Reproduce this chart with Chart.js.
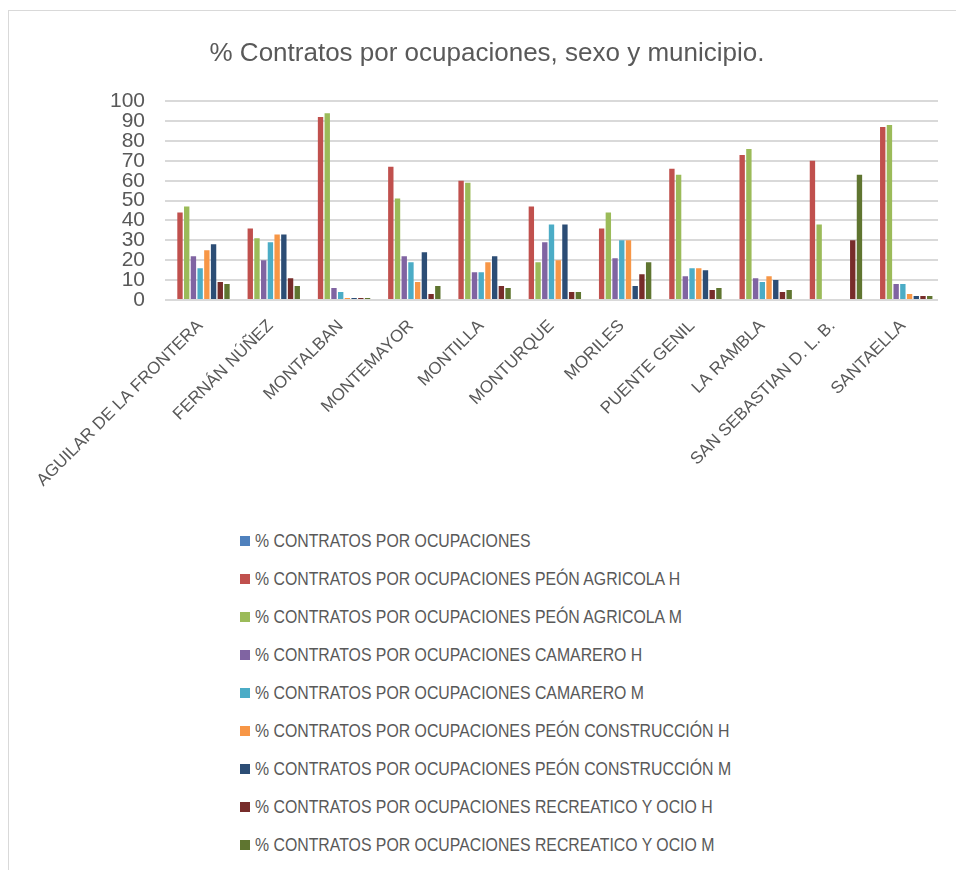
<!DOCTYPE html>
<html>
<head>
<meta charset="utf-8">
<script src="https://cdn.jsdelivr.net/npm/chart.js@4.4.1/dist/chart.umd.min.js"></script>
<style>
  body { margin: 0; background: #fff; font-family: 'Liberation Sans', Arial, sans-serif; }
  #frame { position: absolute; left: 8px; top: 10px; width: 960px; height: 870px; border: 1px solid #d9d9d9; box-sizing: border-box; }
  #wrap { position: absolute; left: 0; top: 0; width: 956px; height: 520px; }
  #legend { position: absolute; left: 240px; top: 522px; margin: 0; padding: 0; list-style: none; }
  #legend li { height: 38px; display: flex; align-items: center; font-size: 18px; color: #595959; white-space: nowrap; }
  #legend .box { display: inline-block; width: 10px; height: 10px; margin-right: 5px; }
  #legend .txt { display: inline-block; transform: scaleX(0.88); transform-origin: left center; }
</style>
</head>
<body>
<div id="frame"></div>
<div id="wrap"><canvas id="myChart"></canvas></div>
<ul id="legend"></ul>
<script>
const municipios = [
  'AGUILAR DE LA FRONTERA',
  'FERNÁN NÚÑEZ',
  'MONTALBAN',
  'MONTEMAYOR',
  'MONTILLA',
  'MONTURQUE',
  'MORILES',
  'PUENTE GENIL',
  'LA RAMBLA',
  'SAN SEBASTIAN D. L. B.',
  'SANTAELLA'
];

// valores (%)
const ocupaciones = [null, null, null, null, null, null, null, null, null, null, null];
const peonAgricolaH = [44, 36, 92, 67, 60, 47, 36, 66, 73, 70, 87];
const peonAgricolaM = [47, 31, 94, 51, 59, 19, 44, 63, 76, 38, 88];
const camareroH = [22, 20, 6, 22, 14, 29, 21, 12, 11, null, 8];
const camareroM = [16, 29, 4, 19, 14, 38, 30, 16, 9, null, 8];
const construccionH = [25, 33, 1, 9, 19, 20, 30, 16, 12, null, 3];
const construccionM = [28, 33, 1, 24, 22, 38, 7, 15, 10, null, 2];
const recreativoH = [9, 11, 1, 3, 7, 4, 13, 5, 4, 30, 2];
const recreativoM = [8, 7, 1, 7, 6, 4, 19, 6, 5, 63, 2];

const yTicks = [0, 10, 20, 30, 40, 50, 60, 70, 80, 90, 100];

const series = [
  { label: '% CONTRATOS POR OCUPACIONES', data: ocupaciones, color: '#4F81BD' },
  { label: '% CONTRATOS POR OCUPACIONES PEÓN AGRICOLA H', data: peonAgricolaH, color: '#C0504D' },
  { label: '% CONTRATOS POR OCUPACIONES PEÓN AGRICOLA M', data: peonAgricolaM, color: '#9BBB59' },
  { label: '% CONTRATOS POR OCUPACIONES CAMARERO H', data: camareroH, color: '#8064A2' },
  { label: '% CONTRATOS POR OCUPACIONES CAMARERO M', data: camareroM, color: '#4BACC6' },
  { label: '% CONTRATOS POR OCUPACIONES PEÓN CONSTRUCCIÓN H', data: construccionH, color: '#F79646' },
  { label: '% CONTRATOS POR OCUPACIONES PEÓN CONSTRUCCIÓN M', data: construccionM, color: '#2C4D75' },
  { label: '% CONTRATOS POR OCUPACIONES RECREATICO Y OCIO H', data: recreativoH, color: '#772C2A' },
  { label: '% CONTRATOS POR OCUPACIONES RECREATICO Y OCIO M', data: recreativoM, color: '#5F7530' }
];

const FONT = "'Liberation Sans', Arial, sans-serif";
const GREY = '#595959';

const data = {
  labels: municipios,
  datasets: series.map(s => ({
    label: s.label,
    data: s.data,
    backgroundColor: s.color,
    borderColor: s.color,
    borderWidth: 0,
    barPercentage: 0.8,
    categoryPercentage: 0.86
  }))
};

// leyenda en HTML, una fila por serie
const htmlLegend = {
  id: 'htmlLegend',
  afterUpdate(chart) {
    const ul = document.getElementById('legend');
    ul.innerHTML = '';
    const items = chart.options.plugins.legend.labels.generateLabels(chart);
    items.forEach(item => {
      const li = document.createElement('li');
      const box = document.createElement('span');
      box.className = 'box';
      box.style.background = item.fillStyle;
      const txt = document.createElement('span');
      txt.className = 'txt';
      txt.textContent = item.text;
      li.appendChild(box);
      li.appendChild(txt);
      ul.appendChild(li);
    });
  }
};

const ctx = document.getElementById('myChart');

new Chart(ctx, {
  type: 'bar',
  data: data,
  plugins: [htmlLegend],
  options: {
    responsive: true,
    maintainAspectRatio: false,
    animation: false,
    layout: { padding: { top: 0, right: 18, bottom: 0, left: 36 } },
    plugins: {
      legend: { display: false },
      tooltip: { enabled: false },
      title: {
        display: true,
        text: '% Contratos por ocupaciones, sexo y municipio.',
        color: GREY,
        font: { family: FONT, size: 26, weight: 'normal' },
        padding: { top: 38, bottom: 32 }
      }
    },
    scales: {
      x: {
        grid: { display: false },
        border: { display: false },
        ticks: {
          color: GREY,
          font: { family: FONT, size: 17 },
          autoSkip: false,
          minRotation: 45,
          maxRotation: 45,
          padding: 8
        },
        afterFit(scale) { scale.height = 220; }
      },
      y: {
        min: 0,
        max: 100,
        afterBuildTicks(scale) { scale.ticks = yTicks.map(v => ({ value: v })); },
        grid: { color: '#d9d9d9', lineWidth: 2, drawTicks: false },
        border: { display: false },
        ticks: {
          color: GREY,
          font: { family: FONT, size: 21 },
          autoSkip: false,
          padding: 20
        },
        afterFit(scale) { scale.width = 129; }
      }
    }
  }
});
</script>
</body>
</html>
